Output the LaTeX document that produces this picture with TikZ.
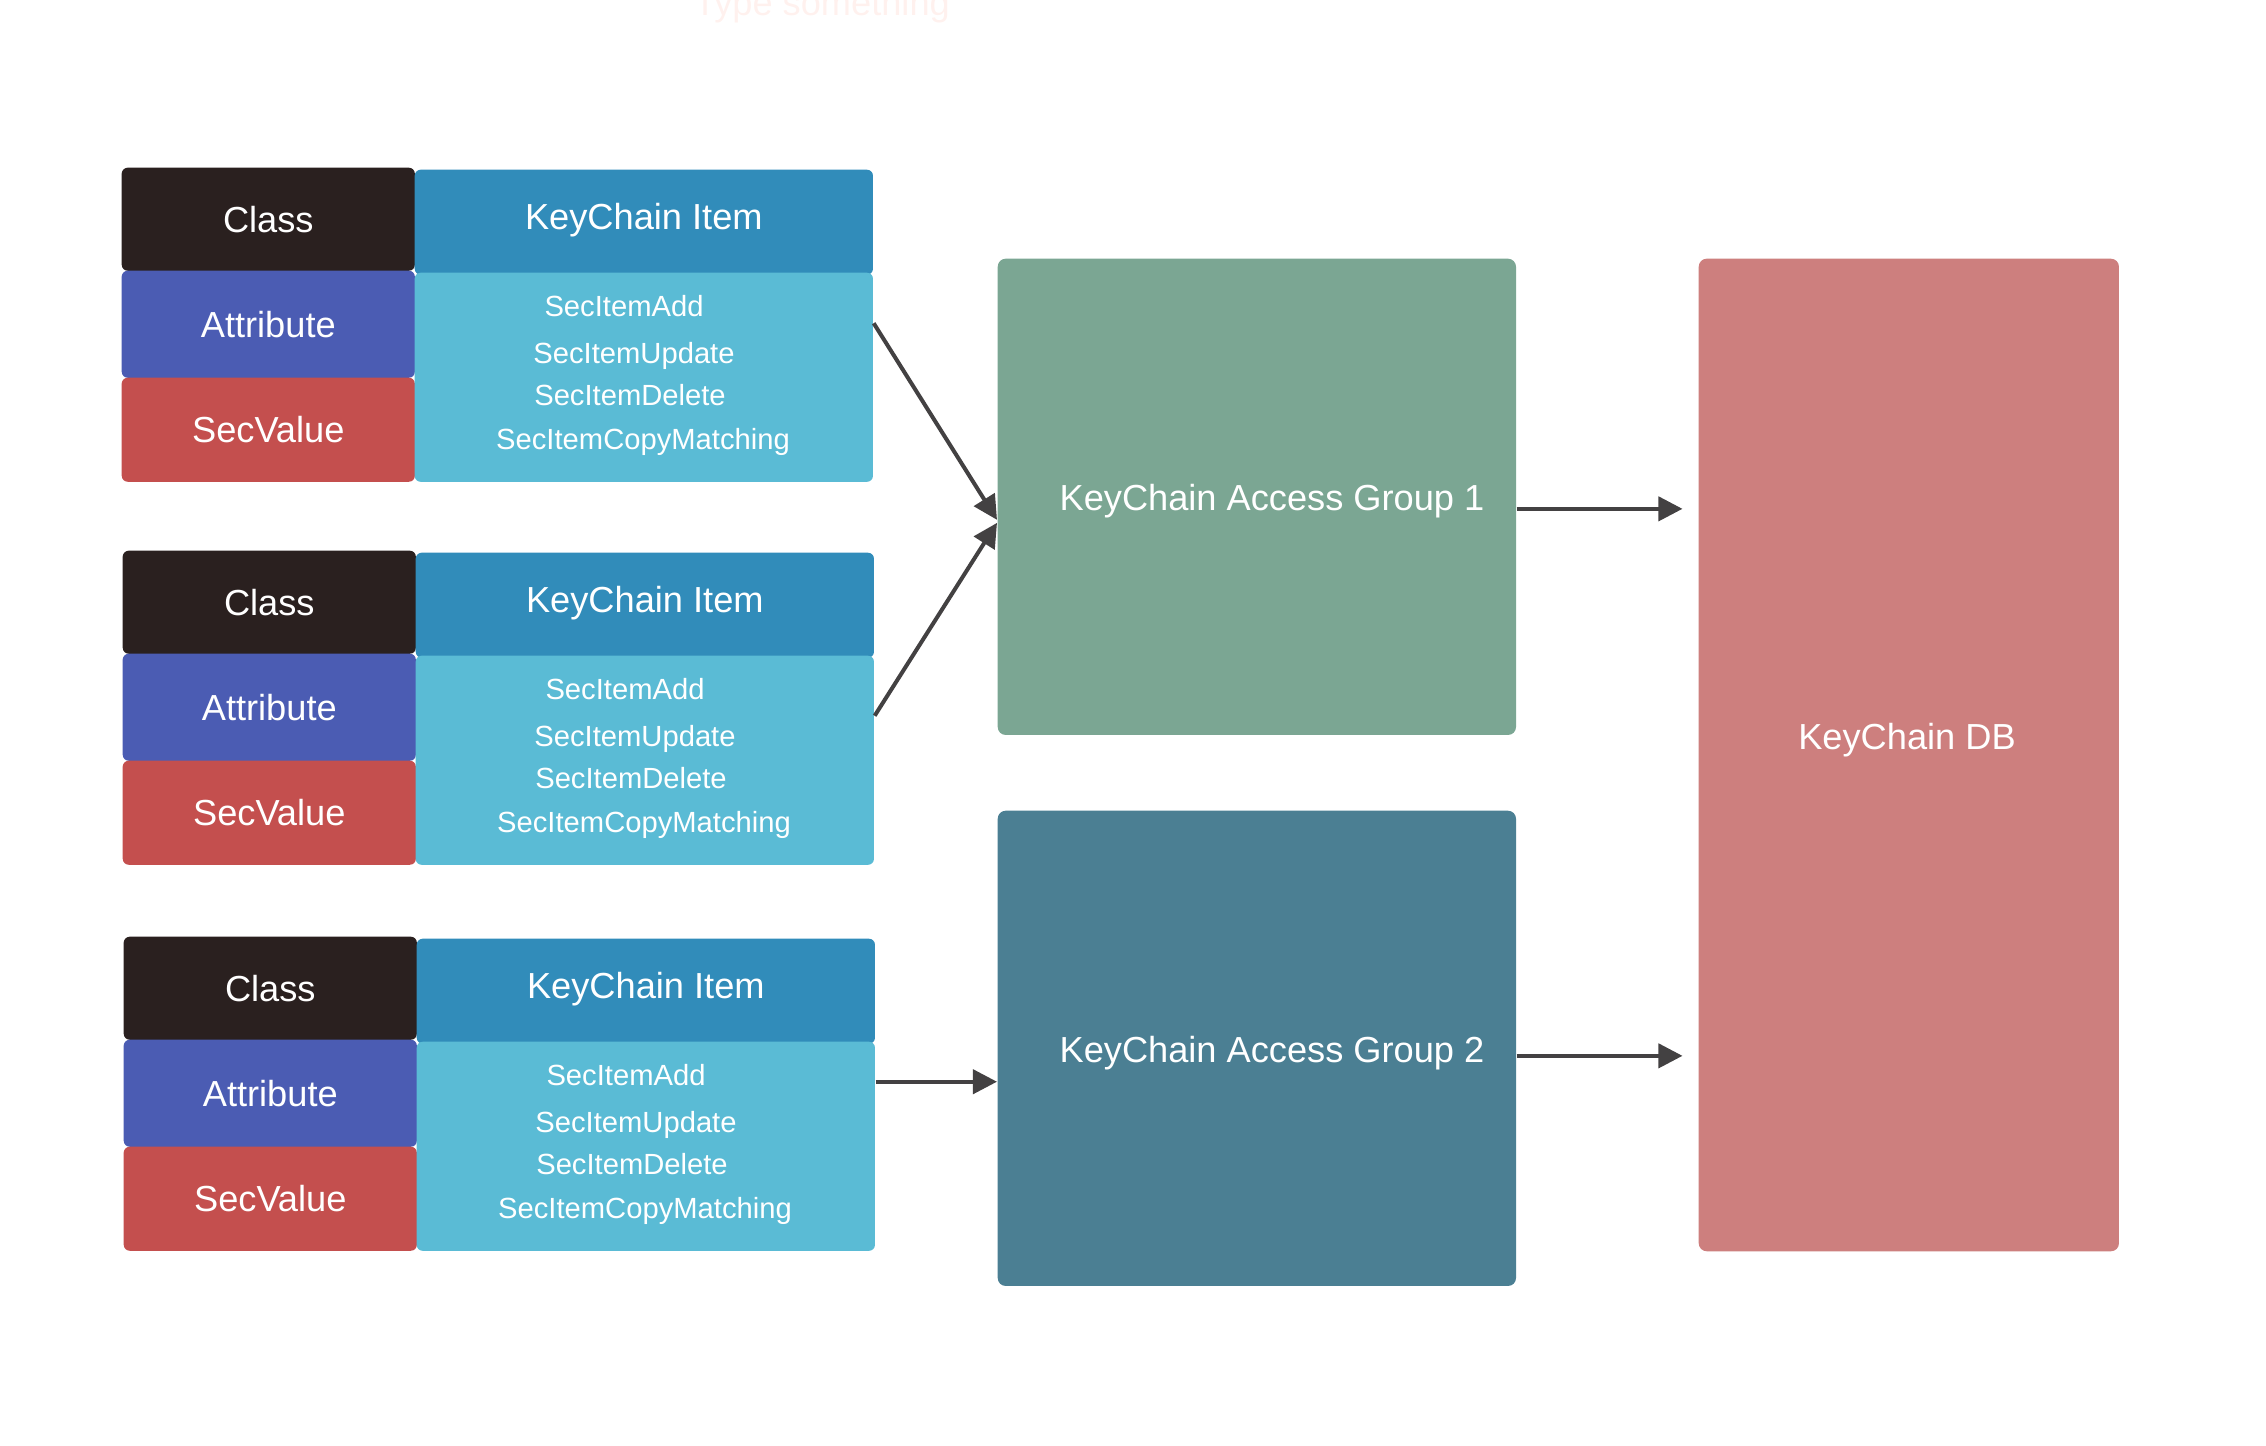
\documentclass[tikz,border=0pt]{standalone}
\usepackage{fontspec}
\setmainfont{Liberation Sans}
\usetikzlibrary{arrows.meta}

\definecolor{clsc}{HTML}{2A201F}
\definecolor{attrc}{HTML}{4B5CB3}
\definecolor{valc}{HTML}{C44F4E}
\definecolor{itemc}{HTML}{318CBA}
\definecolor{opsc}{HTML}{5ABBD5}
\definecolor{grpa}{HTML}{7BA693}
\definecolor{grpb}{HTML}{4B7F93}
\definecolor{dbc}{HTML}{CD7F7E}
\definecolor{arrc}{HTML}{434142}
\definecolor{ghost}{HTML}{FFF1EE}

\begin{document}
\begin{tikzpicture}[x=0.01cm,y=-0.01cm,
  txt/.style={text=white,inner sep=0pt,text height=7.4pt,text depth=0pt,
    font=\fontsize{10.3}{12}\selectfont},
  small/.style={txt,text height=6pt,font=\fontsize{8.3}{10}\selectfont},
  box/.style={txt,anchor=north west,rounded corners=0.06cm},
  arr/.style={draw=arrc,line width=0.04cm,-{Triangle[length=0.24cm,width=0.24cm]}}]
\useasboundingbox (0,0) rectangle (2266,1446);
\node[txt,text=ghost,anchor=base] (hint) at (822,15.7) {Type something};
% the three keychain items
\foreach \n/\x/\t in {1/121/167, 2/122/550, 3/123/936} {
  \node[box,fill=clsc,minimum width=2.93cm,minimum height=1.03cm] (cls\n) at (\x,\t) {Class};
  \node[box,fill=attrc,minimum width=2.93cm,minimum height=1.07cm] (attr\n) at (\x,\t+103) {Attribute};
  \node[box,fill=valc,minimum width=2.93cm,minimum height=1.04cm] (val\n) at (\x,\t+210) {SecValue};
  \node[box,fill=itemc,text depth=3.4pt,minimum width=4.58cm,minimum height=1.05cm] (item\n) at (\x+293,\t+2) {KeyChain Item};
  \node[box,fill=opsc,minimum width=4.58cm,minimum height=2.09cm] (ops\n) at (\x+293,\t+105) {};
  \node[small] (add\n) at (\x+503,\t+139) {SecItemAdd};
  \node[small] (upd\n) at (\x+513,\t+186) {SecItemUpdate};
  \node[small] (del\n) at (\x+509,\t+228) {SecItemDelete};
  \node[small] (copy\n) at (\x+522,\t+272) {SecItemCopyMatching};
}
% access groups and db
\node[box,rounded corners=0.08cm,fill=grpa,minimum width=5.18cm,minimum height=4.76cm] (grp1) at (997,258) {};
\node[box,rounded corners=0.08cm,fill=grpb,minimum width=5.18cm,minimum height=4.75cm] (grp2) at (997,810) {};
\node[box,rounded corners=0.08cm,fill=dbc,minimum width=4.2cm,minimum height=9.92cm] (db) at (1698,258) {};
\node[txt] (grp1lbl) at (1272,497) {KeyChain Access Group 1};
\node[txt] (grp2lbl) at (1272,1049) {KeyChain Access Group 2};
\node[txt] (dblbl) at (1907,736) {KeyChain DB};
% arrows
\draw[arr] ([yshift=0.54cm]ops1.east) -- ([yshift=-0.23cm]grp1.west);
\draw[arr] ([yshift=0.445cm]ops2.east) -- ([yshift=-0.26cm]grp1.west);
\draw[arr] ([yshift=0.645cm]ops3.east) coordinate (a3) -- (a3 -| grp2.west);
\draw[arr,shorten >=0.155cm] ([yshift=-0.12cm]grp1.east) coordinate (a4) -- (a4 -| db.west);
\draw[arr,shorten >=0.155cm] ([yshift=-0.075cm]grp2.east) coordinate (a5) -- (a5 -| db.west);
\end{tikzpicture}
\end{document}
